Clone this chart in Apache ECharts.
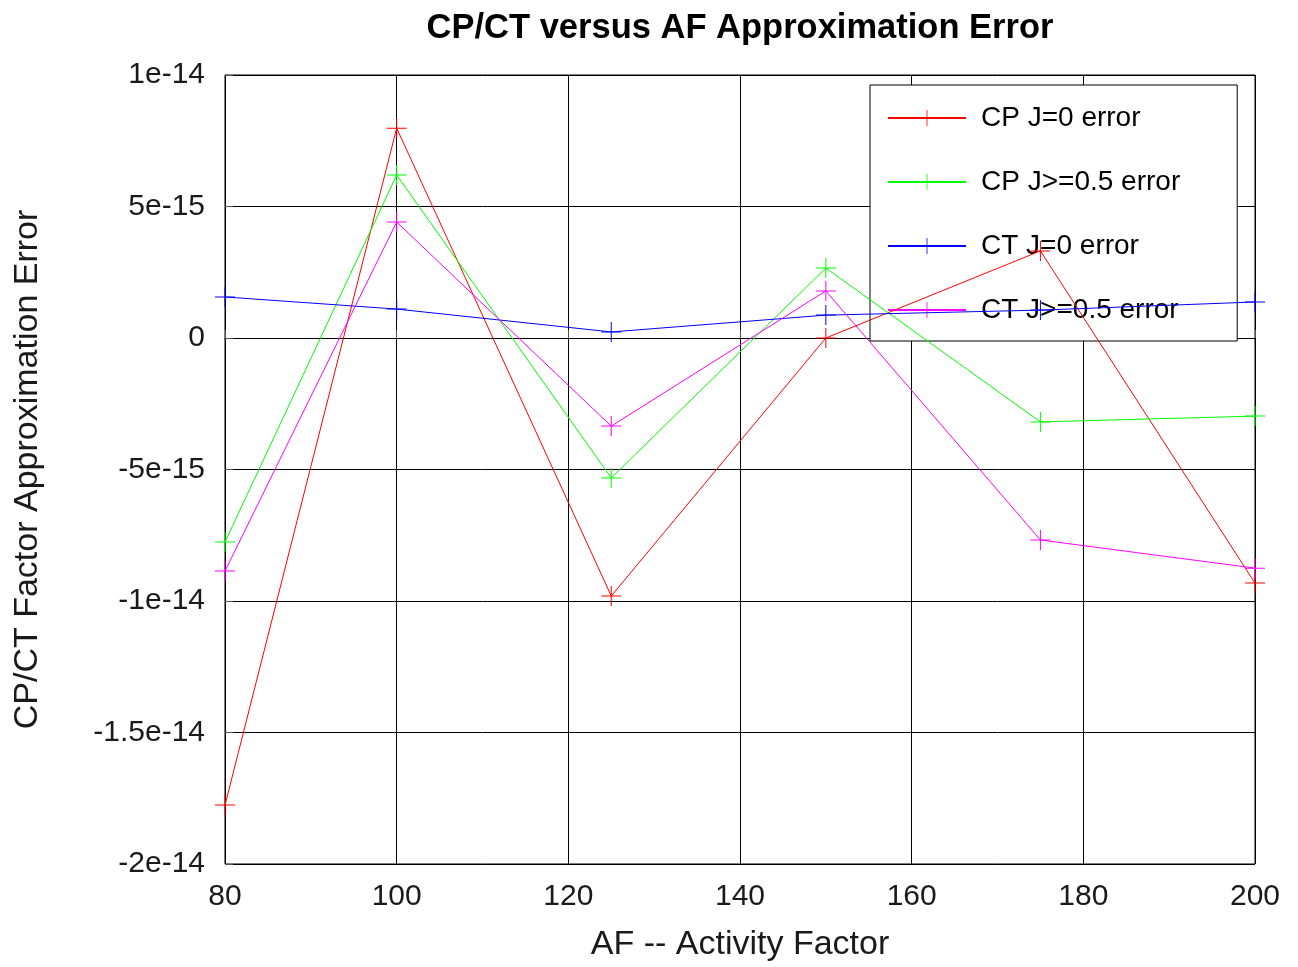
<!DOCTYPE html>
<html>
<head>
<meta charset="utf-8">
<script src="https://cdn.jsdelivr.net/npm/echarts@6/dist/echarts.min.js"></script>
<style>
html,body{margin:0;padding:0;background:#fff;}
#chart{width:1298px;height:967px;}
</style>
</head>
<body>
<div id="chart"></div>
<script>
const afValues = [80, 100, 125, 150, 175, 200];
const cpJ0 = [-1.776e-14, 7.98e-15, -9.81e-15, 0.0, 3.31e-15, -9.32e-15];
const cpJ05 = [-7.76e-15, 6.2e-15, -5.32e-15, 2.66e-15, -3.19e-15, -2.97e-15];
const ctJ0 = [1.56e-15, 1.10e-15, 0.23e-15, 0.87e-15, 1.06e-15, 1.37e-15];
const ctJ05 = [-8.86e-15, 4.41e-15, -3.35e-15, 1.79e-15, -7.68e-15, -8.75e-15];
const seriesNames = ['CP J=0 error', 'CP J>=0.5 error', 'CT J=0 error', 'CT J>=0.5 error'];
const seriesColors = ['#ff0000', '#00ff00', '#0000ff', '#ff00ff'];
const yTickLabels = {'10': '1e-14', '5': '5e-15', '0': '0', '-5': '-5e-15', '-10': '-1e-14', '-15': '-1.5e-14', '-20': '-2e-14'};

const FONT = '"Liberation Sans", Arial, sans-serif';
const TXT = '#1a1a1a';
const plus = 'path://M0,9.5H20V10.5H0Z M9.5,0H10.5V20H9.5Z';

function pairs(ys) { return afValues.map((x, i) => [x, ys[i]]); }
const allData = [cpJ0, cpJ05, ctJ0, ctJ05];

const chart = echarts.init(document.getElementById('chart'), null, {renderer: 'canvas'});
chart.setOption({
  backgroundColor: '#ffffff',
  animation: false,
  title: {
    text: 'CP/CT versus AF Approximation Error',
    left: 735, top: 6, textAlign: 'center',
    textStyle: {fontFamily: FONT, fontSize: 34.5, fontWeight: 'bold', color: '#000'}
  },
  grid: {left: 225, right: 43, top: 75, bottom: 103, show: true, borderColor: '#000', borderWidth: 1, backgroundColor: 'transparent'},
  legend: {
    orient: 'vertical', left: 870, top: 85, z: 1,
    backgroundColor: '#fff', borderColor: '#000', borderWidth: 1,
    padding: [19, 57, 17, 17], itemGap: 36, itemWidth: 78, itemHeight: 20,
    textStyle: {fontFamily: FONT, fontSize: 28, color: '#000', lineHeight: 28, padding: [0, 0, 0, 10]},
    data: seriesNames
  },
  xAxis: {
    type: 'value', min: 80, max: 200, interval: 20,
    name: 'AF -- Activity Factor', nameLocation: 'middle', nameGap: 64,
    nameTextStyle: {fontFamily: FONT, fontSize: 34, color: TXT},
    axisLine: {show: true, lineStyle: {color: '#000'}},
    axisTick: {show: true, inside: true, length: 8, lineStyle: {color: '#555'}},
    axisLabel: {fontFamily: FONT, fontSize: 30, color: TXT, margin: 18},
    splitLine: {show: true, lineStyle: {color: '#000', width: 1}}
  },
  yAxis: {
    type: 'value', min: -2e-14, max: 1e-14, interval: 5e-15,
    name: 'CP/CT Factor Approximation Error', nameLocation: 'middle', nameGap: 180,
    nameTextStyle: {fontFamily: FONT, fontSize: 34, color: TXT},
    axisLine: {show: true, lineStyle: {color: '#000'}},
    axisTick: {show: true, inside: true, length: 8, lineStyle: {color: '#555'}},
    axisLabel: {fontFamily: FONT, fontSize: 30, color: TXT, margin: 20,
      formatter: v => yTickLabels[String(Math.round(v / 1e-15))] || ''},
    splitLine: {show: true, lineStyle: {color: '#000', width: 1}}
  },
  series: seriesNames.map((name, i) => ({
    name: name, type: 'line', z: 3,
    data: pairs(allData[i]),
    symbol: plus, symbolSize: 20, showAllSymbol: true,
    clip: false,
    lineStyle: {color: seriesColors[i], width: 1},
    itemStyle: {color: seriesColors[i]},
    emphasis: {disabled: true}
  }))
});
</script>
</body>
</html>
